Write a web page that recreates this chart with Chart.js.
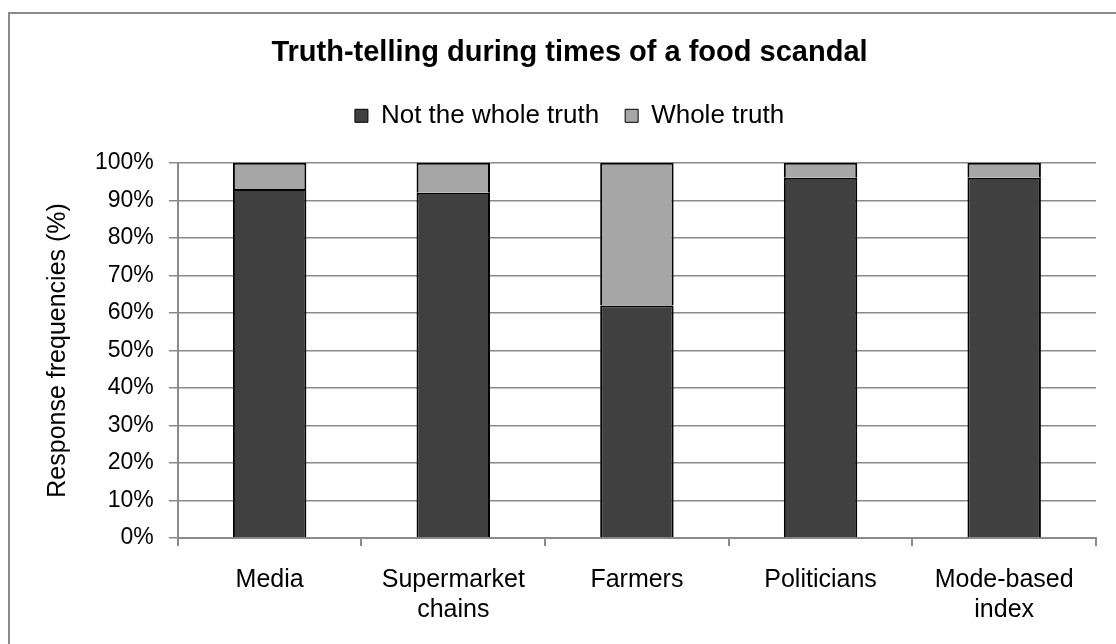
<!DOCTYPE html>
<html>
<head>
<meta charset="utf-8">
<script src="https://cdn.jsdelivr.net/npm/chart.js@4"></script>
<style>
  html, body { margin: 0; padding: 0; background: #fff; overflow: hidden; }
  #frame { position: absolute; left: 8px; top: 12px; width: 1130px; height: 660px; border: 2px solid #8a8a8a; }
  #wrap { position: absolute; left: 0; top: 0; width: 1116px; height: 644px; }
</style>
</head>
<body>
<div id="frame"></div>
<div id="wrap"><canvas id="grafico"></canvas></div>
<script>
const categorias = ['Media', ['Supermarket', 'chains'], 'Farmers', 'Politicians', ['Mode-based', 'index']];
const naoTodaVerdade = [93, 92, 62, 96, 96];
const todaVerdade = [7, 8, 38, 4, 4];
const ticksY = [0, 10, 20, 30, 40, 50, 60, 70, 80, 90, 100];

const fonte = "'Liberation Sans', Arial, sans-serif";
const cinza = '#8a8a8a';

// deixa um espaço extra entre a legenda e a área do gráfico
const espacoLegenda = {
    id: 'espacoLegenda',
    afterInit(chart) {
        const legenda = chart.legend;
        const fitOriginal = legenda.fit;
        legenda.fit = function () {
            fitOriginal.call(this);
            this.height += 24;
        };
    }
};

const ctx = document.getElementById('grafico');

new Chart(ctx, {
    type: 'bar',
    data: {
        labels: categorias,
        datasets: [{
            label: 'Not the whole truth',
            data: naoTodaVerdade,
            backgroundColor: '#404040',
            borderColor: '#000',
            borderWidth: 2
        }, {
            label: 'Whole truth',
            data: todaVerdade,
            backgroundColor: '#a6a6a6',
            borderColor: '#000',
            borderWidth: 2
        }]
    },
    plugins: [espacoLegenda],
    options: {
        responsive: true,
        maintainAspectRatio: false,
        animation: false,
        events: [],
        barPercentage: 0.4,
        categoryPercentage: 1,
        layout: { padding: { left: 43, right: 20, top: 0, bottom: 0 } },
        plugins: {
            title: {
                display: true,
                text: 'Truth-telling during times of a food scandal',
                color: '#000',
                font: { family: fonte, size: 29, weight: 'bold' },
                padding: { top: 36, bottom: 6 }
            },
            legend: {
                display: true,
                labels: {
                    color: '#000',
                    font: { family: fonte, size: 26 },
                    boxWidth: 13,
                    boxHeight: 13,
                    padding: 26,
                    generateLabels: (chart) => chart.data.datasets.map((ds, i) => ({
                        text: ds.label,
                        fillStyle: ds.backgroundColor,
                        strokeStyle: '#000',
                        lineWidth: 1,
                        datasetIndex: i
                    }))
                }
            },
            tooltip: { enabled: false }
        },
        scales: {
            x: {
                stacked: true,
                border: { color: cinza, width: 2 },
                grid: { offset: true, drawOnChartArea: false, color: cinza, lineWidth: 2, tickLength: 8 },
                ticks: {
                    color: '#000',
                    font: { family: fonte, size: 25 },
                    padding: 19,
                    maxRotation: 0,
                    autoSkip: false
                }
            },
            y: {
                stacked: true,
                min: 0,
                max: 100,
                afterBuildTicks: (axis) => { axis.ticks = ticksY.map(v => ({ value: v })); },
                border: { color: cinza, width: 2 },
                grid: { color: cinza, lineWidth: 1.5, tickLength: 9 },
                ticks: {
                    color: '#000',
                    font: { family: fonte, size: 23 },
                    padding: 15,
                    callback: (v) => v + '%'
                },
                title: {
                    display: true,
                    text: 'Response frequencies (%)',
                    color: '#000',
                    font: { family: fonte, size: 25 },
                    padding: { top: 0, bottom: 7 }
                }
            }
        }
    }
});
</script>
</body>
</html>
